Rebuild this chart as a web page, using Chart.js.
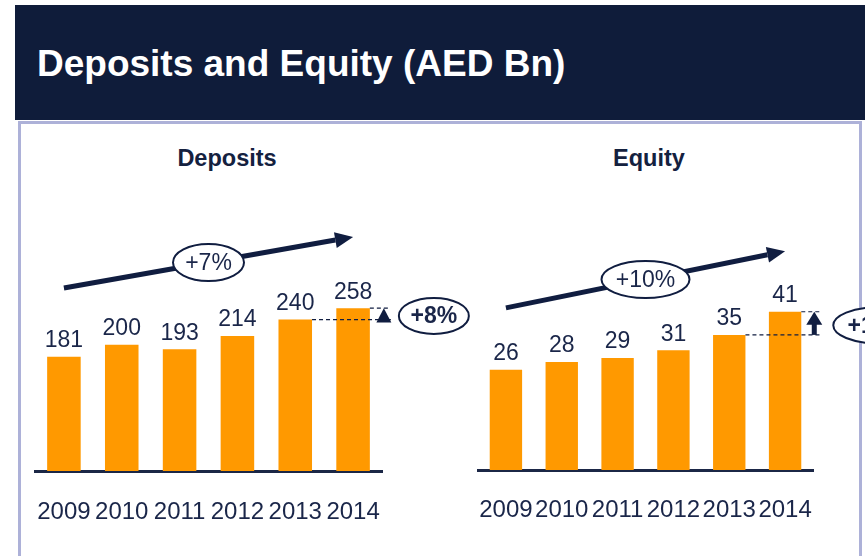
<!DOCTYPE html>
<html>
<head>
<meta charset="utf-8">
<title>Deposits and Equity (AED Bn)</title>
<script src="https://cdn.jsdelivr.net/npm/chart.js@4.4.1/dist/chart.umd.min.js"></script>
<style>
    body {
        margin: 0;
        width: 865px;
        height: 556px;
        overflow: hidden;
        position: relative;
        background: #ffffff;
        font-family: "Liberation Sans", Arial, sans-serif;
    }
    #header {
        position: absolute;
        left: 15px;
        top: 5px;
        width: 850px;
        height: 115px;
        background: #0f1c3a;
    }
    #header h1 {
        position: absolute;
        left: 22px;
        top: 40px;
        margin: 0;
        font-size: 37px;
        line-height: 37px;
        font-weight: bold;
        color: #ffffff;
        white-space: nowrap;
    }
    #panel {
        position: absolute;
        left: 18px;
        top: 121px;
        width: 838px;
        height: 460px;
        border: 3px solid #adb1d8;
    }
    .sub {
        position: absolute;
        top: 147px;
        font-size: 23.5px;
        line-height: 23.5px;
        font-weight: bold;
        color: #14213f;
        transform: translateX(-50%);
        white-space: nowrap;
    }
    canvas {
        position: absolute;
        top: 0;
    }
</style>
</head>
<body>
<div id="header"><h1>Deposits and Equity (AED Bn)</h1></div>
<div id="panel"></div>
<div class="sub" style="left:227px">Deposits</div>
<div class="sub" style="left:649px">Equity</div>
<canvas id="depositsChart" width="480" height="556" style="left:0"></canvas>
<canvas id="equityChart" width="425" height="556" style="left:440px"></canvas>

<script>
// values
const years = ['2009', '2010', '2011', '2012', '2013', '2014'];
const deposits = [181, 200, 193, 214, 240, 258];
const equity = [26, 28, 29, 31, 35, 41];

const depositsCagr = '+7%';
const depositsGrowth = '+8%';
const equityCagr = '+10%';
const equityGrowth = '+17%';

const NAVY = '#101d40';
const TEXT = '#1a2649';
const ORANGE = '#ff9900';
const FONT = '"Liberation Sans", Arial, sans-serif';

// value labels above bars
const valueLabels = {
    id: 'valueLabels',
    afterDatasetsDraw(chart) {
        const ctx = chart.ctx;
        const meta = chart.getDatasetMeta(0);
        const values = chart.data.datasets[0].data;
        ctx.save();
        ctx.fillStyle = TEXT;
        ctx.font = '23px ' + FONT;
        ctx.textAlign = 'center';
        ctx.textBaseline = 'middle';
        meta.data.forEach((bar, i) => {
            ctx.fillText(values[i], bar.x, bar.y - 16);
        });
        ctx.restore();
    }
};

function ellipseLabel(ctx, cx, cy, rx, ry, text, bold) {
    ctx.beginPath();
    ctx.ellipse(cx, cy, rx, ry, 0, 0, Math.PI * 2);
    ctx.fillStyle = '#ffffff';
    ctx.fill();
    ctx.lineWidth = 2;
    ctx.strokeStyle = NAVY;
    ctx.stroke();
    ctx.fillStyle = TEXT;
    ctx.font = (bold ? 'bold ' : '') + '23px ' + FONT;
    ctx.textAlign = 'center';
    ctx.textBaseline = 'middle';
    ctx.fillText(text, cx, cy + 1);
}

// CAGR arrow + year-on-year marker
const growthMarks = {
    id: 'growthMarks',
    afterDatasetsDraw(chart, args, opts) {
        const ctx = chart.ctx;
        const xs = chart.scales.x;
        const ys = chart.scales.y;
        ctx.save();

        // long trend arrow
        const x0 = xs.getPixelForValue(opts.from[0]), y0 = ys.getPixelForValue(opts.from[1]);
        const x1 = xs.getPixelForValue(opts.to[0]), y1 = ys.getPixelForValue(opts.to[1]);
        const ang = Math.atan2(y1 - y0, x1 - x0);
        const headLen = 18, headW = 8;
        const bx = x1 - headLen * Math.cos(ang), by = y1 - headLen * Math.sin(ang);
        ctx.strokeStyle = NAVY;
        ctx.lineWidth = 5;
        ctx.beginPath();
        ctx.moveTo(x0, y0);
        ctx.lineTo(bx, by);
        ctx.stroke();
        ctx.fillStyle = NAVY;
        ctx.beginPath();
        ctx.moveTo(x1, y1);
        ctx.lineTo(bx + headW * Math.sin(ang), by - headW * Math.cos(ang));
        ctx.lineTo(bx - headW * Math.sin(ang), by + headW * Math.cos(ang));
        ctx.closePath();
        ctx.fill();
        ellipseLabel(ctx, (x0 + x1) / 2, (y0 + y1) / 2, opts.cagrRx, 18.5, opts.cagr, false);

        // last year vs previous year
        const meta = chart.getDatasetMeta(0);
        const prev = meta.data[meta.data.length - 2];
        const last = meta.data[meta.data.length - 1];
        const lastRight = last.x + last.width / 2;
        const endX = lastRight + 21;
        ctx.strokeStyle = NAVY;
        ctx.lineWidth = 1.2;
        ctx.setLineDash([4, 3]);
        ctx.beginPath();
        ctx.moveTo(lastRight, last.y);
        ctx.lineTo(endX, last.y);
        ctx.moveTo(prev.x + prev.width / 2, prev.y);
        ctx.lineTo(endX, prev.y);
        ctx.stroke();
        ctx.setLineDash([]);

        const ax = lastRight + opts.markDx;
        ctx.fillStyle = NAVY;
        if (opts.shaft) {
            ctx.fillRect(ax - 2.5, last.y + 11, 5, prev.y - last.y - 11);
            ctx.beginPath();
            ctx.moveTo(ax, last.y);
            ctx.lineTo(ax - 8, last.y + 13);
            ctx.lineTo(ax + 8, last.y + 13);
            ctx.closePath();
            ctx.fill();
        } else {
            ctx.beginPath();
            ctx.moveTo(ax, last.y);
            ctx.lineTo(ax - 7.5, prev.y + 3);
            ctx.lineTo(ax + 7.5, prev.y + 3);
            ctx.closePath();
            ctx.fill();
        }
        ellipseLabel(ctx, lastRight + opts.growthDx, (last.y + prev.y) / 2 + 2,
            opts.growthRx, 18, opts.growth, true);
        ctx.restore();
    }
};

function makeChart(id, values, yMax, padding, tickPad, marks) {
    const ctx = document.getElementById(id).getContext('2d');
    return new Chart(ctx, {
        type: 'bar',
        data: {
            labels: years,
            datasets: [{
                data: values,
                backgroundColor: ORANGE,
                borderWidth: 0,
                barPercentage: 0.58,
                categoryPercentage: 1
            }]
        },
        options: {
            responsive: false,
            animation: false,
            layout: { padding: padding },
            plugins: {
                legend: { display: false },
                tooltip: { enabled: false },
                growthMarks: marks
            },
            scales: {
                x: {
                    grid: { display: false, drawTicks: false },
                    border: { display: true, color: '#1b2746', width: 3 },
                    ticks: {
                        color: TEXT,
                        font: { size: 24, family: FONT },
                        padding: tickPad,
                        autoSkip: false,
                        maxRotation: 0
                    }
                },
                y: { display: false, min: 0, max: yMax }
            }
        },
        plugins: [valueLabels, growthMarks]
    });
}

makeChart('depositsChart', deposits, 300,
    { left: 35, right: 98, top: 281.7, bottom: 2.2 }, 27,
    { from: [0, 290], to: [5, 371], cagr: depositsCagr, cagrRx: 35.5,
      growth: depositsGrowth, growthRx: 35, growthDx: 64, markDx: 14, shaft: false });

makeChart('equityChart', equity, 50,
    { left: 38, right: 52, top: 277, bottom: 5.2 }, 26,
    { from: [0, 42], to: [5, 56.7], cagr: equityCagr, cagrRx: 44,
      growth: equityGrowth, growthRx: 44, growthDx: 76, markDx: 13, shaft: true });
</script>
</body>
</html>
